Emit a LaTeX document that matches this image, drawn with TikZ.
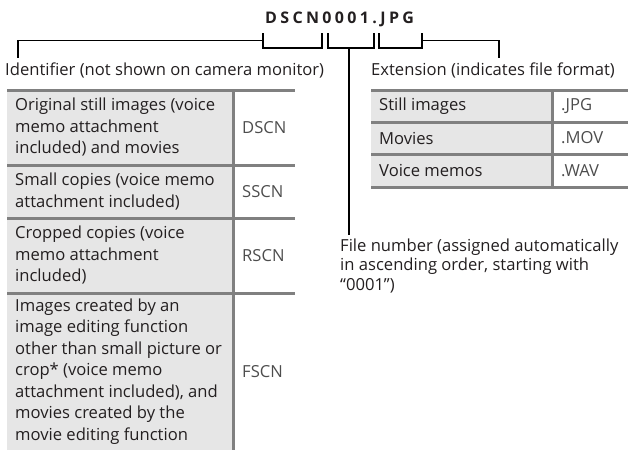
\documentclass[tikz,border=0pt]{standalone}
\usepackage{fontspec}
\setmainfont{Open Sans}
\usetikzlibrary{positioning, calc}

\definecolor{rulegray}{HTML}{808080}
\definecolor{cellgray}{HTML}{E6E6E6}
\definecolor{ink}{HTML}{231F20}
\definecolor{codeink}{HTML}{4D4D4D}

\tikzset{
  leader/.style={black, line width=1.6pt, line join=miter},
  tabrule/.style={rulegray, line width=3pt},
  celltext/.style={anchor=west, align=left, inner sep=0pt, text=ink,
    font=\fontsize{16.6}{21.5}\selectfont},
  codetext/.style={anchor=west, inner sep=0pt, text=codeink,
    font=\fontsize{16.6}{18}\selectfont},
  labeltext/.style={anchor=base west, align=left, inner sep=0pt, text=ink,
    font=\fontsize{16.6}{19.5}\selectfont},
}

\begin{document}
\begin{tikzpicture}[x=1pt, y=-1pt]
\useasboundingbox (0,0) rectangle (628,450);

%-- file name
\node[anchor=base west, inner sep=0pt, text=ink,
  font=\fontsize{16}{16}\selectfont\bfseries\addfontfeature{LetterSpace=21}]
  (fname) at (265,23.5) {DSCN0001.JPG};

%-- brackets under the three parts of the name
\foreach \l/\r in {263/322, 328/374, 379/422}
  \draw[leader] (\l,33) -- (\l,48) -- (\r,48) -- (\r,33);

%-- leader joints and free ends
\coordinate (idJoin)  at (263,40.5);
\coordinate (idEnd)   at (18,58);
\coordinate (numJoin) at (349,48);
\coordinate (numEnd)  at (349,235);
\coordinate (extJoin) at (422,40.5);
\coordinate (extEnd)  at (499,58);

\draw[leader] (idJoin)  -| (idEnd);
\draw[leader] (numJoin) -- (numEnd);
\draw[leader] (extJoin) -| (extEnd);

%-- labels
\node[labeltext] (ident) at (5,75)   {Identifier (not shown on camera monitor)};
\node[labeltext] (ext)   at (371,75) {Extension (indicates file format)};
\node[labeltext] (fnum)  at (340,290)
  {File number (assigned automatically\\in ascending order, starting with\\``0001'')};

%-- identifier table
\fill[cellgray] (7,90) rectangle (233,450);
\foreach \y in {90,165,218,293}
  \draw[tabrule] (7,\y) -- (295,\y);
\draw[tabrule] (233,90) -- (233,450);

\node[celltext] (idA) at (15,127.5)
  {Original still images (voice\\memo attachment\\included) and movies};
\node[celltext] (idB) at (15,191.5)
  {Small copies (voice memo\\attachment included)};
\node[celltext] (idC) at (15,255.5)
  {Cropped copies (voice\\memo attachment\\included)};
\node[celltext] (idD) at (15,371.5)
  {Images created by an\\image editing function\\other than small picture or\\crop* (voice memo\\attachment included), and\\movies created by the\\movie editing function};

\foreach \n/\y/\t in {cA/127.5/DSCN, cB/191.5/SSCN, cC/255.5/RSCN, cD/371.5/FSCN}
  \node[codetext] (\n) at (242,\y) {\t};

%-- extension table
\fill[cellgray] (371,90) rectangle (552,187);
\foreach \y in {90,122,154,187}
  \draw[tabrule] (371,\y) -- (628,\y);
\draw[tabrule] (552,90) -- (552,187);

\foreach \n/\y/\t/\e in {eA/106/Still images/.JPG, eB/138/Movies/.MOV, eC/170.5/Voice memos/.WAV}{
  \node[celltext] (\n) at (379,\y) {\t};
  \node[codetext] (\n x) at (561,\y) {\e};
}

\end{tikzpicture}
\end{document}
